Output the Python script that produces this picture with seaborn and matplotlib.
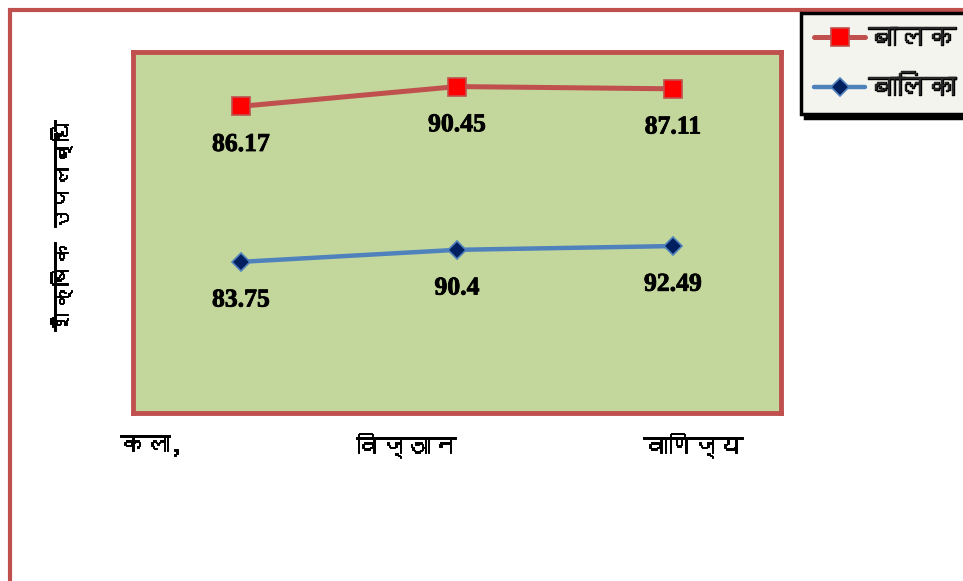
import numpy as np
import pandas as pd
import matplotlib
matplotlib.use("Agg")
import matplotlib.pyplot as plt
from matplotlib.patches import Rectangle
from matplotlib import font_manager
import matplotlib.patheffects as pe
import seaborn as sns

# ---- data ----
categories = ['कला,', 'विज्ञान', 'वाणिज्य']
boys = [86.17, 90.45, 87.11]      # बालक
girls = [83.75, 90.4, 92.49]      # बालिका
series_names = ['बालक', 'बालिका']
y_label = 'शैक्षिक उपलब्धि'

# ---- find a font with Devanagari glyphs, if any ----
deva = None
try:
    from fontTools.ttLib import TTFont
    for fe in font_manager.fontManager.ttflist:
        try:
            f = TTFont(fe.fname, fontNumber=0, lazy=True)
            cmap = f.getBestCmap()
            if cmap and 0x0915 in cmap and 0x093E in cmap:
                deva = fe.name
                break
        except Exception:
            continue
except Exception:
    pass

sns.set_theme(style="white")
fam = [deva, 'DejaVu Sans'] if deva else ['DejaVu Sans']
plt.rcParams['font.family'] = fam

W, H = 963, 581
fig = plt.figure(figsize=(W / 100, H / 100), dpi=100)
fig.patch.set_facecolor('white')

# outer chart border (continues past right/bottom edge)
fig.add_artist(Rectangle((10 / W, -0.2), 2.0, (H - 10) / H + 0.2,
                         transform=fig.transFigure, fill=False,
                         edgecolor='#c0504d', lw=3, zorder=0))

ax = fig.add_axes([133 / W, (H - 413) / H, 648 / W, 361 / H])
ax.set_facecolor('#c3d69b')
for s in ax.spines.values():
    s.set_color('#c0504d')
    s.set_linewidth(3.5)
    s.set_visible(True)

# stacked line chart: girls at the bottom, boys stacked on top
x = np.arange(len(categories))
girls_arr = np.array(girls)
boys_stacked = girls_arr + np.array(boys)
df = pd.DataFrame({'x': np.concatenate([x, x]),
                   'y': np.concatenate([boys_stacked, girls_arr]),
                   'series': [series_names[0]] * 3 + [series_names[1]] * 3})

sns.lineplot(data=df[df.series == series_names[0]], x='x', y='y', ax=ax,
             color='#c0504d', lw=3.6, marker='s', markersize=13,
             markerfacecolor='#ff0000', markeredgecolor='#c0504d',
             markeredgewidth=1.2, label=series_names[0], legend=False)
sns.lineplot(data=df[df.series == series_names[1]], x='x', y='y', ax=ax,
             color='#4f81bd', lw=3.2, marker='D', markersize=9,
             markerfacecolor='#002060', markeredgecolor='#4f81bd',
             markeredgewidth=1.2, label=series_names[1], legend=False)

ax.set_xlim(-0.5, len(categories) - 0.5)
ax.set_ylim(0, 200)
ax.set_xticks([])
ax.set_yticks([])
ax.set_xlabel('')
ax.set_ylabel('')

bold_fx = [pe.withStroke(linewidth=0.6, foreground='black')]

# data labels (original values) below markers
for xi, yv, lab in zip(x, boys_stacked, boys):
    ax.annotate(f'{lab:g}', (xi, yv), xytext=(0, -27.5), textcoords='offset points',
                ha='center', va='center', fontsize=18.5, fontweight='bold',
                family='Liberation Serif', color='black', path_effects=bold_fx)
for xi, yv, lab in zip(x, girls_arr, girls):
    ax.annotate(f'{lab:g}', (xi, yv), xytext=(0, -27.5), textcoords='offset points',
                ha='center', va='center', fontsize=18.5, fontweight='bold',
                family='Liberation Serif', color='black', path_effects=bold_fx)

text_fx = [pe.withStroke(linewidth=0.7, foreground='black')]

# category labels (placed as in the reference)
cat_offsets_px = [-90, -51, 20]
for xi, name, off in zip(x, categories, cat_offsets_px):
    ax.annotate(name, (xi, 0), xycoords=('data', 'axes fraction'),
                xytext=(off * 0.72, -32 * 0.72), textcoords='offset points',
                ha='center', va='center', fontsize=18, color='black',
                family=fam, annotation_clip=False, path_effects=text_fx)

fig.text(62 / W, 1 - 225 / H, y_label, rotation=90, ha='center', va='center',
         fontsize=16, color='black', family=fam, path_effects=text_fx)

leg = fig.legend(handles=ax.get_lines()[:2], labels=series_names,
                 loc='upper left', bbox_to_anchor=(801 / W, 1 - 13 / H),
                 frameon=True, fancybox=False, framealpha=1,
                 facecolor='#f4f4ee', edgecolor='black',
                 prop={'size': 21, 'weight': 'bold', 'family': fam},
                 handlelength=1.75, handletextpad=0.1, borderpad=0.45,
                 labelspacing=0.85, borderaxespad=0,
                 shadow={'color': 'black', 'alpha': 1, 'ox': 3, 'oy': -3})
leg.get_frame().set_linewidth(2.5)
leg.set_zorder(10)
for t in leg.get_texts():
    t.set_path_effects([pe.withStroke(linewidth=1.0, foreground='black')])

fig.savefig('out.png', dpi=100, facecolor='white')
